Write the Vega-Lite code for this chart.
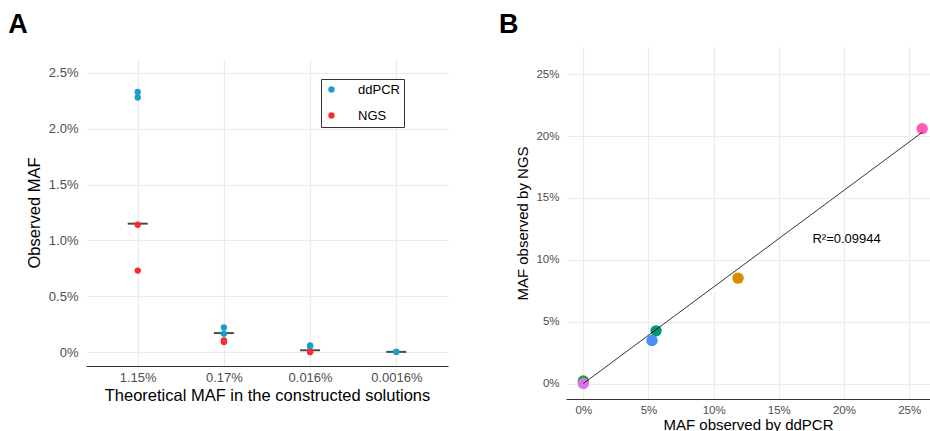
{
  "$schema": "https://vega.github.io/schema/vega-lite/v6.json",
  "padding": {"left": 8, "top": 11, "right": 0, "bottom": 0},
  "background": "white",
  "config": {
    "view": {"stroke": null},
    "font": "Liberation Sans",
    "axis": {"grid": true, "gridColor": "#ebebeb", "gridWidth": 1.2, "ticks": false, "domain": false, "labelColor": "#4d4d4d", "labelFontSize": 12, "titleFontSize": 15, "titleFontWeight": "normal", "titleColor": "#000000", "labelFont": "Liberation Sans", "titleFont": "Liberation Sans"},
    "axisX": {"domain": true, "domainColor": "#333333", "domainWidth": 1.2},
    "title": {"fontSize": 27, "fontWeight": "bold", "anchor": "start", "color": "#000000", "font": "Liberation Sans"},
    "concat": {"spacing": 50}
  },
  "resolve": {"scale": {"color": "independent"}, "legend": {"color": "independent"}},
  "hconcat": [
    {
      "title": {"text": "A", "dx": -18, "offset": 8},
      "spacing": 11,
      "vconcat": [
        {"width": 362, "height": 1, "data": {"values": []}, "mark": "point", "encoding": {}},
        {
          "width": 362,
          "height": 307,
          "layer": [
            {
              "data": {"values": [
                {"theo": "1.15%", "t": 1.15},
                {"theo": "0.17%", "t": 0.17},
                {"theo": "0.016%", "t": 0.016},
                {"theo": "0.0016%", "t": 0.0016}
              ]},
              "mark": {"type": "tick", "orient": "horizontal", "size": 20, "thickness": 2, "color": "#000000"},
              "encoding": {
                "x": {"field": "theo", "type": "nominal", "scale": {"type": "point", "domain": ["1.15%", "0.17%", "0.016%", "0.0016%"], "padding": 0.6}, "axis": {"title": "Theoretical MAF in the constructed solutions", "labelAngle": 0, "labelPadding": 5, "titlePadding": 3, "labelFontSize": 13, "titleFontSize": 16.5}},
                "y": {"field": "t", "type": "quantitative", "scale": {"domain": [-0.125, 2.625], "nice": false, "zero": false}, "axis": {"title": "Observed MAF", "values": [0, 0.5, 1, 1.5, 2, 2.5], "labelExpr": "datum.value === 0 ? '0%' : format(datum.value, '.1f') + '%'", "labelPadding": 8, "titlePadding": 6, "labelFontSize": 13, "titleFontSize": 16.5}}
              }
            },
            {
              "data": {"values": [
                {"theo": "1.15%", "method": "ddPCR", "maf": 2.33},
                {"theo": "1.15%", "method": "ddPCR", "maf": 2.28},
                {"theo": "1.15%", "method": "NGS", "maf": 1.14},
                {"theo": "1.15%", "method": "NGS", "maf": 0.73},
                {"theo": "0.17%", "method": "ddPCR", "maf": 0.22},
                {"theo": "0.17%", "method": "ddPCR", "maf": 0.165},
                {"theo": "0.17%", "method": "NGS", "maf": 0.105},
                {"theo": "0.17%", "method": "NGS", "maf": 0.09},
                {"theo": "0.016%", "method": "ddPCR", "maf": 0.06},
                {"theo": "0.016%", "method": "ddPCR", "maf": 0.05},
                {"theo": "0.016%", "method": "NGS", "maf": 0.002},
                {"theo": "0.016%", "method": "NGS", "maf": 0.0},
                {"theo": "0.0016%", "method": "ddPCR", "maf": 0.002},
                {"theo": "0.0016%", "method": "ddPCR", "maf": 0.001}
              ]},
              "mark": {"type": "circle", "size": 40, "opacity": 1},
              "encoding": {
                "x": {"field": "theo", "type": "nominal", "scale": {"type": "point", "domain": ["1.15%", "0.17%", "0.016%", "0.0016%"], "padding": 0.6}},
                "y": {"field": "maf", "type": "quantitative"},
                "color": {"field": "method", "type": "nominal", "scale": {"domain": ["ddPCR", "NGS"], "range": ["#1a9dc8", "#f92c2c"]},
                  "legend": {"orient": "none", "legendX": 235, "legendY": 32, "title": null, "strokeColor": "#333333", "fillColor": "white", "padding": 4, "symbolSize": 40, "symbolType": "circle", "labelFontSize": 13, "labelOffset": 20, "rowPadding": 12, "labelColor": "#000000", "symbolStrokeWidth": 0, "labelFont": "Liberation Sans"}}
              }
            }
          ]
        }
      ]
    },
    {
      "title": {"text": "B", "dx": -17, "offset": 8},
      "width": 364,
      "height": 352,
      "layer": [
        {
          "data": {"values": [
            {"sample": "S1", "ddpcr": 0.0, "ngs": 0.2},
            {"sample": "S2", "ddpcr": 0.0, "ngs": 0.0},
            {"sample": "S3", "ddpcr": 5.58, "ngs": 4.26},
            {"sample": "S4", "ddpcr": 5.27, "ngs": 3.48},
            {"sample": "S5", "ddpcr": 11.87, "ngs": 8.52},
            {"sample": "S6", "ddpcr": 26.0, "ngs": 20.6}
          ]},
          "mark": {"type": "circle", "size": 130, "opacity": 1},
          "encoding": {
            "x": {"field": "ddpcr", "type": "quantitative", "scale": {"domain": [-1.33, 26.6], "nice": false, "zero": false}, "axis": {"title": "MAF observed by ddPCR", "values": [0, 5, 10, 15, 20, 25], "labelExpr": "datum.value + '%'", "labelPadding": 5, "titlePadding": 2, "labelFontSize": 11.5}},
            "y": {"field": "ngs", "type": "quantitative", "scale": {"domain": [-1.25, 27.2], "nice": false, "zero": false}, "axis": {"title": "MAF observed by NGS", "values": [0, 5, 10, 15, 20, 25], "labelExpr": "datum.value + '%'", "labelPadding": 7, "titlePadding": 5, "labelFontSize": 11.5}},
            "color": {"field": "sample", "type": "nominal", "scale": {"domain": ["S1", "S2", "S3", "S4", "S5", "S6"], "range": ["#1aa136", "#d674e8", "#009878", "#4b8ff5", "#d98b00", "#ff5ab4"]}, "legend": null}
          }
        },
        {
          "data": {"values": [
            {"ddpcr": 0.0, "ngs": 0.0},
            {"ddpcr": 26.0, "ngs": 20.3}
          ]},
          "mark": {"type": "line", "color": "#000000", "strokeWidth": 0.8},
          "encoding": {
            "x": {"field": "ddpcr", "type": "quantitative"},
            "y": {"field": "ngs", "type": "quantitative"}
          }
        },
        {
          "data": {"values": [
            {"ddpcr": 20.2, "ngs": 11.7, "label": "R²=0.09944"}
          ]},
          "mark": {"type": "text", "fontSize": 13, "color": "#000000", "align": "center", "baseline": "middle"},
          "encoding": {
            "x": {"field": "ddpcr", "type": "quantitative"},
            "y": {"field": "ngs", "type": "quantitative"},
            "text": {"field": "label"}
          }
        }
      ]
    }
  ]
}
